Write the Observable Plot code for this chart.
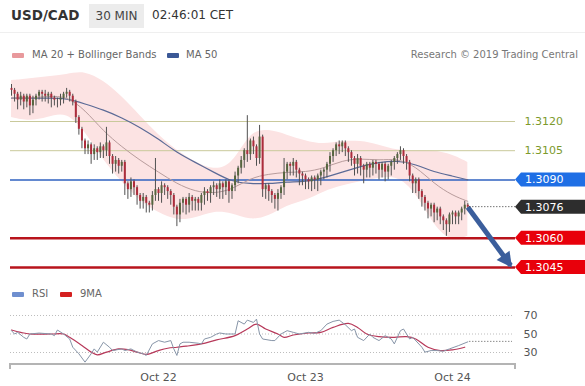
<!DOCTYPE html>
<html><head><meta charset="utf-8">
<script src="https://cdn.jsdelivr.net/npm/d3@7"></script>
<script src="https://cdn.jsdelivr.net/npm/@observablehq/plot@0.6"></script>
<style>
body{margin:0;width:585px;height:386px;overflow:hidden;background:#fff;font-family:"DejaVu Sans",sans-serif;position:relative}
#hdr{position:absolute;left:0;top:0;width:585px;height:32px;background:#fff;border-bottom:1px solid #efefef}
#sym{position:absolute;left:11px;top:7px;font-size:13.5px;font-weight:bold;color:#333}
#tf{position:absolute;left:89px;top:4px;width:55px;height:24px;background:#ececec;color:#444;font-size:12px;line-height:24px;text-align:center}
#tm{position:absolute;left:152px;top:8px;font-size:12px;color:#333}
.leg{position:absolute;font-size:10px;color:#666;line-height:12px}
.sw{position:absolute;width:12px;height:5px;border-radius:1px}
#main{position:absolute;left:0;top:64px}
#rsi{position:absolute;left:0;top:305px}
</style></head><body>
<div id="hdr"><div id="sym"></div><div id="tf"></div><div id="tm"></div></div>
<div class="sw" style="left:12px;top:53px;background:#e8999c"></div><div class="leg" id="l1" style="left:32px;top:49px"></div>
<div class="sw" style="left:167px;top:53px;background:#3b5896"></div><div class="leg" id="l2" style="left:186px;top:49px"></div>
<div class="leg" id="src" style="right:7px;top:49px;color:#777"></div>
<div id="main"></div>
<div class="sw" style="left:12px;top:292px;background:#6f8fcf"></div><div class="leg" id="l3" style="left:32px;top:288px"></div>
<div class="sw" style="left:60px;top:292px;background:#d42020"></div><div class="leg" id="l4" style="left:80px;top:288px"></div>
<div id="rsi"></div>
<script>
// ---- texts ----
const symbol = "USD/CAD", timeframe = "30 MIN", stamp = "02:46:01 CET";
const legendMain = ["MA 20 + Bollinger Bands", "MA 50"];
const legendRsi = ["RSI", "9MA"];
const source = "Research © 2019 Trading Central";

// ---- candles (30-min bars from Oct 21 00:00) ----
const firstOpen = 1.3137;
const closes = [
1.3136,1.3134,1.3131,1.3133,1.3130,1.3133,1.3128,1.3131,1.3133,1.3135,1.3134,1.3133,1.3134,1.3132,1.3131,1.3131,1.3132,1.3134,1.3135,1.3133,
1.3130,1.3122,1.3116,1.3110,1.3106,1.3108,1.3103,1.3106,1.3104,1.3107,1.3105,1.3109,1.3102,1.3098,1.3100,1.3097,1.3099,1.3088,1.3085,1.3089,
1.3086,1.3082,1.3079,1.3081,1.3078,1.3077,1.3082,1.3085,1.3083,1.3087,1.3086,1.3084,1.3082,1.3076,1.3072,1.3078,1.3080,1.3077,1.3081,1.3079,
1.3080,1.3078,1.3082,1.3084,1.3083,1.3086,1.3087,1.3085,1.3088,1.3086,1.3089,1.3084,1.3087,1.3092,1.3096,1.3100,1.3105,1.3103,1.3110,1.3107,
1.3101,1.3112,1.3085,1.3087,1.3084,1.3082,1.3080,1.3083,1.3086,1.3094,1.3098,1.3097,1.3099,1.3095,1.3093,1.3092,1.3090,1.3089,1.3091,1.3090,
1.3092,1.3094,1.3095,1.3098,1.3102,1.3105,1.3108,1.3107,1.3109,1.3106,1.3104,1.3101,1.3098,1.3101,1.3097,1.3095,1.3098,1.3096,1.3099,1.3098,
1.3095,1.3098,1.3094,1.3097,1.3099,1.3101,1.3103,1.3105,1.3102,1.3099,1.3092,1.3088,1.3090,1.3084,1.3081,1.3078,1.3075,1.3077,1.3073,1.3075,
1.3071,1.3069,1.3067,1.3072,1.3073,1.3071,1.3073,1.3075,1.3077,1.3076];
const wickUp = [ // pips above body
2,1,1,2,1,1,1,2,1,1,1,2,1,1,1,1,2,1,2,1,
1,1,1,1,1,2,1,2,1,2,1,8,1,1,2,1,1,1,1,2,
1,1,1,2,1,1,2,16,1,2,1,1,1,1,1,2,1,1,2,1,
1,1,1,2,1,1,2,1,2,1,1,1,1,2,1,2,1,18,1,2,
1,6,1,1,1,1,1,2,1,7,1,1,2,1,1,1,1,1,1,1,
1,1,1,1,2,1,1,2,1,1,1,1,1,2,1,1,1,1,1,1,
1,1,1,1,1,1,1,2,1,1,1,1,1,1,1,1,1,1,1,1,
1,1,1,1,1,1,1,1,2,1];
const wickDown = [ // pips below body
3,4,5,3,4,3,5,4,3,2,4,3,4,5,3,4,3,3,2,3,
2,3,3,4,3,3,5,3,4,3,4,3,4,5,4,4,3,6,5,4,
4,5,4,4,5,4,3,3,4,5,4,4,5,4,6,4,5,5,4,5,
5,4,4,5,4,5,4,4,5,6,4,6,4,3,4,3,4,4,3,4,
4,3,4,5,5,4,5,6,3,4,4,5,5,4,6,5,5,4,5,5,
6,5,4,4,4,3,3,4,3,4,5,4,6,5,5,7,4,5,4,5,
5,4,5,4,5,4,3,3,4,4,3,5,5,4,5,4,5,4,5,4,
4,5,6,4,5,4,4,4,3,2];

// ---- MA20 / Bollinger / MA50 (sampled) ----
const bandBars = [0,6,12,18,24,30,36,42,48,54,60,66,72,78,84,90,96,102,108,114,120,126,132,138,144,149];
const bandUpper = [1.3141,1.3142,1.3143,1.3144,1.3146,1.3141,1.3133,1.3123,1.3113,1.3105,1.3099,1.3095,1.3097,1.3115,1.3116,1.3113,1.3110,1.3108,1.3110,1.3110,1.3108,1.3105,1.3105,1.3105,1.3103,1.3099];
const bandLower = [1.3122,1.3120,1.3122,1.3125,1.3115,1.3100,1.3089,1.3079,1.3073,1.3069,1.3070,1.3074,1.3073,1.3069,1.3071,1.3077,1.3079,1.3084,1.3087,1.3089,1.3091,1.3092,1.3084,1.3066,1.3058,1.3061];
const ma20 = [1.3132,1.3132,1.3133,1.3133,1.3126,1.3115,1.3107,1.3100,1.3094,1.3088,1.3084,1.3083,1.3085,1.3091,1.3093,1.3094,1.3094,1.3096,1.3100,1.3101,1.3100,1.3101,1.3097,1.3088,1.3082,1.3079];
const ma50 = [1.3132,1.3132,1.3132,1.3132,1.3129,1.3126,1.3122,1.3117,1.3111,1.3104,1.3099,1.3094,1.3089,1.3088,1.3088,1.3089,1.3089,1.3091,1.3094,1.3097,1.3099,1.3100,1.3098,1.3094,1.3092,1.3090];

// ---- levels ----
const greenLevels = [1.3120, 1.3105];
const blueLevels = [1.3090];
const redLevels = [1.3060, 1.3045];
const lastPrice = 1.3076;
const boxPrices = [1.3090, 1.3076, 1.3060, 1.3045];
const boxColors = ["#1f6fe5", "#2d2d2d", "#e8000b", "#e8000b"];
const arrowTarget = {bar: 163, price: 1.3046};

// ---- RSI ----
const rsiBars = [0,1,2,4,5,6,9,13,14,15,17,19,20,22,24,26,27,28,30,32,33,36,37,39,41,43,44,46,48,50,52,53,54,55,56,58,61,62,63,65,67,68,70,73,74,76,77,79,80,81,82,85,86,88,90,92,94,97,99,101,103,105,107,109,111,112,113,115,117,118,120,122,124,125,127,128,130,131,134,135,137,139,141,143,146,149];
const rsiVals = [53.6,50,51.8,46.4,44.6,50,51,50,48.2,54.3,50,44.6,35.7,28.6,19.6,28.6,33.9,30.4,41.1,35.7,32.1,33.9,32.1,33.9,30.4,28.6,26.8,39.3,42.9,41.1,42.9,33.9,26.8,39.3,41.1,41.1,40,39.3,44.6,46.4,50,51.1,50,50,64.3,60.7,65,62.5,66.1,50,44.6,42.9,42.9,50,53.6,51.8,50,51.8,50.7,53.6,60.7,63.6,65,60,53.6,55.4,46.4,42.9,50,46.4,42.9,48.2,44.6,39.3,53.6,55.4,44.6,46.4,35.7,30.4,32.1,32.1,31.4,33.9,37.5,41.5];
const maBars = [0,3,6,13,17,19,23,26,28,31,35,38,41,44,48,51,54,57,62,67,73,77,80,83,87,89,92,97,101,105,110,113,116,120,125,129,132,136,140,144,148];
const maVals = [54.3,51.8,50,50,50,46.4,37.5,30.4,27.5,30.4,33.9,33.2,30.4,27.9,32.1,34.6,35.7,36.8,39.3,43.6,48.2,55.4,60.7,55.4,50,46.4,48.9,51.1,51.8,57.1,61.4,57.1,50,47.1,46.4,47.1,44.6,35.7,32.1,32.9,35.7];
const rsiLevels = [70, 50, 30];
const tickLabels = ["Oct 22", "Oct 23", "Oct 24"];
const tickDays = [22, 23, 24];

// ---- build ----
document.getElementById("sym").textContent = symbol;
document.getElementById("tf").textContent = timeframe;
document.getElementById("tm").textContent = stamp;
document.getElementById("l1").textContent = legendMain[0];
document.getElementById("l2").textContent = legendMain[1];
document.getElementById("l3").textContent = legendRsi[0];
document.getElementById("l4").textContent = legendRsi[1];
document.getElementById("src").textContent = source;

const pip = 0.0001;
const start = Date.UTC(2019, 9, 21, 0, 0);
const barTime = i => new Date(start + i * 30 * 60 * 1000);
const tickDates = tickDays.map(d => new Date(Date.UTC(2019, 9, d)));

const candles = closes.map((c, i) => {
  const o = i === 0 ? firstOpen : closes[i - 1];
  return {t: barTime(i), open: o, close: c,
    high: Math.max(o, c) + wickUp[i] * pip, low: Math.min(o, c) - wickDown[i] * pip};
});
const bands = bandBars.map((b, i) => ({t: barTime(b), up: bandUpper[i], lo: bandLower[i], m20: ma20[i], m50: ma50[i]}));
const lastBar = closes.length - 1;

const xOpts = {type: "utc", domain: [barTime(0), tickDates[2]], range: [11, 452]};

const main = Plot.plot({
  width: 585, height: 216, marginLeft: 10, marginRight: 70, marginTop: 0, marginBottom: 0,
  style: {background: "transparent", overflow: "visible", fontFamily: "DejaVu Sans"},
  x: {...xOpts, axis: null},
  y: {domain: [1.3045, 1.3120], range: [203, 57], axis: null},
  marks: [
    Plot.areaY(bands, {x: "t", y1: "lo", y2: "up", fill: "#fce3e3", curve: "basis"}),
    Plot.ruleY(greenLevels, {stroke: "#c9c99b", strokeWidth: 1}),
    Plot.ruleY(blueLevels, {stroke: "#2f62c0", strokeWidth: 1.5}),
    Plot.ruleY(redLevels, {stroke: "#b8141c", strokeWidth: 2.5}),
    Plot.line(bands, {x: "t", y: "m50", stroke: "#5b6a96", strokeWidth: 1.2, curve: "basis"}),
    Plot.line(bands, {x: "t", y: "m20", stroke: "#b89c9c", strokeWidth: 1, curve: "basis"}),
    Plot.ruleX(candles, {x: "t", y1: "low", y2: "high", stroke: "#505050", strokeWidth: 1}),
    Plot.ruleX(candles, {x: "t", y1: "open", y2: "close", strokeWidth: 2,
      stroke: d => d.close >= d.open ? "#56663f" : "#ad2c3c"}),
    Plot.text(greenLevels, {y: d => d, text: d => d.toFixed(4), frameAnchor: "right", textAnchor: "start", dx: 9, fill: "#7c9a2c", fontSize: 11}),
    Plot.link([{x1: barTime(lastBar), y1: closes[lastBar], x2: barTime(arrowTarget.bar), y2: arrowTarget.price}],
      {x1: "x1", y1: "y1", x2: "x2", y2: "y2", stroke: "#3b5e9c", strokeWidth: 5})
  ]
});
document.getElementById("main").appendChild(main);

{
  const sx = main.scale("x"), sy = main.scale("y");
  const svg = d3.select(main);
  const right = 585 - 70;
  // dotted last-price line
  const xl = sx.apply(barTime(lastBar)), yl = sy.apply(lastPrice);
  svg.append("line").attr("x1", xl + 2).attr("x2", right).attr("y1", yl).attr("y2", yl)
    .attr("stroke", "#333").attr("stroke-dasharray", "1,2");
  // arrow head
  const x1 = sx.apply(barTime(lastBar)), y1 = sy.apply(closes[lastBar]);
  const x2 = sx.apply(barTime(arrowTarget.bar)), y2 = sy.apply(arrowTarget.price);
  const a = Math.atan2(y2 - y1, x2 - x1), L = 15, W = 8;
  const tx = x2 + 3 * Math.cos(a), ty = y2 + 3 * Math.sin(a);
  const bx = tx - L * Math.cos(a), by = ty - L * Math.sin(a);
  svg.append("path").attr("fill", "#3b5e9c")
    .attr("d", `M${tx},${ty}L${bx + W * Math.sin(a)},${by - W * Math.cos(a)}L${bx - W * Math.sin(a)},${by + W * Math.cos(a)}Z`);
  // price boxes
  boxPrices.forEach((p, i) => {
    const y = sy.apply(p);
    svg.append("path").attr("fill", boxColors[i])
      .attr("d", `M${right},${y}L${right + 6},${y - 7}H585V${y + 7}H${right + 6}Z`);
    svg.append("text").attr("x", right + 10).attr("y", y).attr("dy", "0.36em")
      .attr("text-anchor", "start")
      .attr("fill", "#fff").attr("font-size", 11).attr("font-family", "DejaVu Sans").text(p.toFixed(4));
  });
}

const rsiData = rsiBars.map((b, i) => ({t: barTime(b), v: rsiVals[i]}));
const maData = maBars.map((b, i) => ({t: barTime(b), v: maVals[i]}));

const rsi = Plot.plot({
  width: 585, height: 81, marginLeft: 10, marginRight: 73, marginTop: 0, marginBottom: 22,
  style: {background: "transparent", overflow: "visible", fontFamily: "DejaVu Sans", fontSize: "11px", color: "#555"},
  x: {...xOpts, ticks: tickDates, tickFormat: (d) => tickLabels[tickDates.findIndex(t => +t === +d)], tickSize: 0, tickPadding: 9, label: null},
  y: {domain: [30, 70], range: [47, 10], axis: null},
  marks: [
    Plot.ruleY(rsiLevels, {stroke: "#bdbdbd", strokeDasharray: "1,2"}),
    Plot.line(maData, {x: "t", y: "v", stroke: "#b7395a", strokeWidth: 1.2, curve: "catmull-rom"}),
    Plot.line(rsiData, {x: "t", y: "v", stroke: "#8795a8", strokeWidth: 1}),
    Plot.text(rsiLevels, {y: d => d, text: d => String(d), frameAnchor: "right", textAnchor: "start", dx: 11, fill: "#555", fontSize: 11})
  ]
});
document.getElementById("rsi").appendChild(rsi);
{
  const sx = rsi.scale("x"), sy = rsi.scale("y");
  const svg = d3.select(rsi);
  const last = rsiData[rsiData.length - 1];
  svg.append("line").attr("x1", sx.apply(last.t) + 2).attr("x2", 585 - 73)
    .attr("y1", sy.apply(last.v)).attr("y2", sy.apply(last.v))
    .attr("stroke", "#555").attr("stroke-dasharray", "1,2");
  const yb = 81 - 22;
  svg.append("path").attr("fill", "none").attr("stroke", "#b4b4b4").attr("stroke-width", 2)
    .attr("d", `M10,${yb + 5}V${yb}H515V${yb + 5}`);
}
</script>
</body></html>
